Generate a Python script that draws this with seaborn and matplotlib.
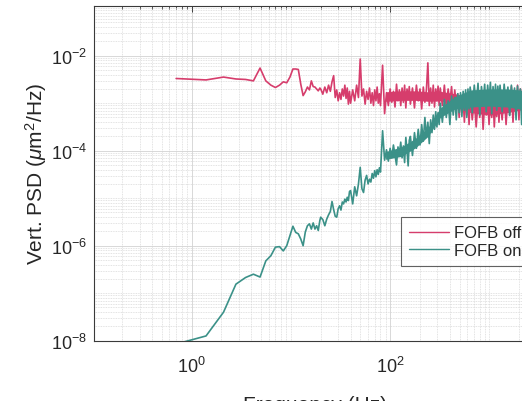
import matplotlib
matplotlib.use("Agg")
import matplotlib.pyplot as plt
import numpy as np
import pandas as pd
import seaborn as sns
from matplotlib.ticker import LogLocator, NullFormatter

# ---------------- data ----------------
series_names = ["FOFB off", "FOFB on"]
series_colors = ["#D63D6C", "#3B9188"]

# low-frequency bins (Hz)
freq_low = [0.7, 1.4, 2.1, 2.8, 3.5, 4.2, 4.9, 5.6, 6.3, 7.0, 7.7, 8.4, 9.1, 9.8,
            10.5, 11.2, 11.9, 12.6, 13.3, 14.0, 14.7, 15.4, 16.1, 16.8, 17.5,
            18.2, 18.9, 19.6]
# log10 of PSD (um^2/Hz)
off_low_log = [-2.48, -2.51, -2.45, -2.49, -2.50, -2.53, -2.26, -2.53, -2.62,
               -2.67, -2.62, -2.55, -2.57, -2.45, -2.28, -2.28, -2.29, -2.60,
               -2.84, -2.76, -2.66, -2.72, -2.53, -2.65, -2.66, -2.70, -2.74,
               -2.68]
on_low_log = [-8.07, -7.90, -7.40, -6.81, -6.67, -6.60, -6.66, -6.32, -6.21,
              -6.03, -6.02, -6.11, -6.00, -5.79, -5.59, -5.72, -5.75, -5.86,
              -6.00, -5.71, -5.58, -5.54, -5.65, -5.52, -5.65, -5.58, -5.68,
              -5.47]

# higher-frequency samples (Hz)
freq_high = [20, 21, 22, 23, 24, 25, 26, 27, 28, 29, 30, 31, 32, 33, 34, 35, 36, 37, 38, 39,
             40, 42, 44, 46, 48, 50, 52, 54, 56, 58, 60, 62, 64, 66, 68, 70, 72, 74, 76, 78,
             80, 84, 88, 92, 96, 100, 104, 108, 112, 116, 120, 124, 128, 132, 136, 140, 144, 148, 152, 156,
             160, 168, 176, 184, 192, 200, 208, 216, 224, 232, 240, 248, 256, 264, 272, 280, 288, 296, 304, 312,
             320, 336, 352, 368, 384, 400, 416, 432, 448, 464, 480, 496, 512, 528, 544, 560, 576, 592, 608, 624,
             640, 672, 704, 736, 768, 800, 832, 864, 896, 928, 960, 992, 1024, 1056, 1088, 1120, 1152, 1184, 1216, 1248,
             1280, 1344, 1408, 1472, 1536, 1600, 1664, 1728, 1792, 1856, 1920, 1984, 2048, 2112, 2176, 2240, 2304, 2368, 2432, 2496, 2560]

off_high_log = [-2.70, -2.81, -2.66, -2.78, -2.62, -2.75, -2.55, -2.42, -2.88, -2.72,
                -2.95, -2.78, -2.92, -2.70, -2.85, -2.62, -2.90, -2.68, -3.02, -2.75,
                -3.00, -2.72, -2.95, -2.62, -2.88, -2.07, -2.85, -2.70, -3.02, -2.75,
                -2.92, -2.68, -3.00, -2.78, -3.05, -2.72, -2.95, -2.66, -3.00, -2.80,
                -3.05, -2.20, -3.22, -2.78, -3.05, -2.70, -2.98, -2.75, -3.08, -2.60,
                -2.95, -2.72, -3.05, -2.68, -2.98, -2.62, -3.10, -2.70, -2.92, -2.65,
                -3.02, -2.68, -3.10, -2.62, -2.95, -2.70, -3.12, -2.66, -2.98, -2.72,
                -2.15, -3.05, -2.68, -3.00, -2.62, -3.08, -2.70, -2.95, -2.64, -3.05,
                -2.68, -3.05, -2.62, -3.10, -2.70, -2.98, -2.65, -3.15, -2.72, -3.05,
                -2.80, -3.30, -2.85, -3.20, -2.90, -3.40, -2.82, -3.25, -2.95, -3.45,
                -2.85, -3.35, -2.90, -3.50, -2.95, -3.30, -2.80, -3.55, -3.00, -3.25,
                -2.85, -3.45, -2.95, -3.30, -2.88, -3.50, -3.00, -3.28, -2.82, -3.40,
                -2.90, -3.35, -2.75, -3.45, -2.85, -3.25, -2.65, -3.40, -2.80, -3.20,
                -2.62, -3.35, -2.70, -3.15, -2.60, -3.30, -2.72, -3.10, -2.65, -3.25,
                -2.80]

on_high_log = [-5.40, -5.45, -5.58, -5.44, -5.35, -5.28, -5.07, -5.24, -5.38, -5.40,
               -5.22, -5.16, -5.25, -5.08, -5.12, -5.02, -5.08, -4.98, -5.05, -4.86,
               -4.84, -5.12, -4.76, -4.95, -4.70, -4.35, -4.80, -4.88, -4.62, -4.52,
               -4.70, -4.60, -4.66, -4.48, -4.58, -4.42, -4.55, -4.40, -4.50, -4.36,
               -4.45, -3.58, -4.20, -3.98, -4.22, -3.95, -4.15, -3.88, -4.10, -4.30,
               -3.92, -4.05, -3.82, -4.15, -3.90, -4.25, -3.72, -4.00, -4.32, -3.78,
               -3.70, -4.10, -3.62, -3.95, -3.55, -3.88, -3.45, -3.80, -3.30, -3.72,
               -3.40, -3.85, -3.35, -3.62, -3.25, -3.55, -3.18, -3.50, -3.20, -3.45,
               -3.00, -3.40, -2.92, -3.30, -2.95, -3.45, -2.85, -3.25, -2.88, -3.35,
               -2.80, -3.20, -2.78, -3.28, -2.75, -3.15, -2.72, -3.30, -2.70, -3.12,
               -2.66, -3.20, -2.62, -3.05, -2.58, -3.25, -2.65, -3.00, -2.60, -3.18,
               -2.62, -2.95, -2.56, -3.22, -2.65, -3.05, -2.60, -3.15, -2.64, -2.98,
               -2.62, -3.18, -2.60, -3.02, -2.66, -3.26, -2.62, -3.00, -2.68, -3.35,
               -2.64, -3.10, -2.70, -3.45, -2.66, -3.15, -2.72, -3.30, -2.70, -3.10,
               -2.75]

# dense-band core (where the spectrum is a solid smear), log10 PSD
band_freq = [90, 130, 180, 240, 320, 450, 650, 1000, 1500, 2000, 2560]
off_band_top = [-2.76, -2.74, -2.74, -2.76, -2.75, -2.80, -2.88, -2.95, -2.88, -2.80, -2.80]
off_band_bot = [-2.96, -2.94, -2.94, -2.96, -2.95, -3.05, -3.20, -3.25, -3.20, -3.15, -3.10]
on_band_top = [-4.02, -3.92, -3.74, -3.52, -3.10, -2.86, -2.72, -2.70, -2.70, -2.72, -2.76]
on_band_bot = [-4.18, -4.12, -3.94, -3.70, -3.30, -3.12, -3.08, -3.06, -3.08, -3.12, -3.12]

x_tick_values = [1, 100]
x_tick_labels = [r"$10^{0}$", r"$10^{2}$"]
y_tick_values = [1e-8, 1e-6, 1e-4, 1e-2]
y_tick_labels = [r"$10^{-8}$", r"$10^{-6}$", r"$10^{-4}$", r"$10^{-2}$"]

# ---------------- build table ----------------
rows = []
for name, lo, hi in [(series_names[0], off_low_log, off_high_log),
                     (series_names[1], on_low_log, on_high_log)]:
    f = list(freq_low) + list(freq_high)
    v = list(lo) + list(hi)
    rows.append(pd.DataFrame({"freq": f, "psd": np.power(10.0, v), "series": name}))
df = pd.concat(rows, ignore_index=True)

# ---------------- style ----------------
sns.set_theme(style="white")
plt.rcParams["font.family"] = ["Liberation Sans", "DejaVu Sans"]
plt.rcParams["mathtext.fontset"] = "custom"
plt.rcParams["mathtext.rm"] = "Liberation Sans"
plt.rcParams["mathtext.it"] = "Liberation Sans:italic"
plt.rcParams["mathtext.default"] = "regular"

fig = plt.figure(figsize=(5.22, 4.02), dpi=100)
W, H = 522.0, 402.0
left_px, right_px, top_px, bottom_px = 94.0, 536.0, 7.0, 341.7
ax = fig.add_axes([left_px / W, 1 - bottom_px / H,
                   (right_px - left_px) / W, (bottom_px - top_px) / H])
ax.set_xscale("log")
ax.set_yscale("log")
ax.set_axisbelow(True)

# solid cores of the dense parts, drawn underneath each series' line
ax.fill_between(band_freq, np.power(10.0, off_band_bot), np.power(10.0, off_band_top),
                color=series_colors[0], linewidth=0, zorder=1.9)
sns.lineplot(data=df[df["series"] == series_names[0]], x="freq", y="psd",
             color=series_colors[0], estimator=None, sort=False, linewidth=1.2,
             legend=False, ax=ax, zorder=2.0)
ax.fill_between(band_freq, np.power(10.0, on_band_bot), np.power(10.0, on_band_top),
                color=series_colors[1], linewidth=0, zorder=2.1)
sns.lineplot(data=df[df["series"] == series_names[1]], x="freq", y="psd",
             color=series_colors[1], estimator=None, sort=False, linewidth=1.2,
             legend=False, ax=ax, zorder=2.2)

ax.set_xlim(0.1042, 10 ** ((right_px - 191.5) / 99.3))
ax.set_ylim(1e-8, 10 ** (-8 + (341.7 - 7.0) / 47.5))

ax.set_xticks(x_tick_values)
ax.set_xticklabels(x_tick_labels)
ax.set_yticks(y_tick_values)
ax.set_yticklabels(y_tick_labels)
ax.xaxis.set_minor_locator(LogLocator(base=10, subs=np.arange(1, 10), numticks=100))
ax.yaxis.set_minor_locator(LogLocator(base=10, subs=np.arange(1, 10), numticks=100))
ax.xaxis.set_minor_formatter(NullFormatter())
ax.yaxis.set_minor_formatter(NullFormatter())

ax.grid(True, which="major", color="#d2d2d2", linewidth=0.6, linestyle="-")
ax.grid(True, which="minor", color="#d2d2d2", linewidth=0.5, linestyle=(0, (1.2, 1.2)))

for s in ax.spines.values():
    s.set_color("#3a3a3a")
    s.set_linewidth(0.8)
ax.tick_params(which="both", direction="in", top=True, right=True,
               color="#3a3a3a", labelcolor="#262626", labelsize=13)
ax.tick_params(which="major", length=4.5, width=0.7)
ax.tick_params(which="minor", length=2.5, width=0.6)
ax.tick_params(axis="x", pad=11)
ax.tick_params(axis="y", pad=5)

ax.set_xlabel("Frequency (Hz)", fontsize=15, color="#262626", labelpad=13.5)
ax.set_ylabel(r"Vert. PSD ($\mathit{\mu}$m$^2$/Hz)", fontsize=15,
              color="#262626", labelpad=1.5)

off_line = [l for l in ax.get_lines() if l.get_zorder() == 2.0][0]
on_line = [l for l in ax.get_lines() if l.get_zorder() == 2.2][0]
leg = ax.legend([off_line, on_line], series_names, loc="upper left",
                bbox_to_anchor=((401 - left_px) / (right_px - left_px),
                                (bottom_px - 218) / (bottom_px - top_px)),
                borderaxespad=0, fontsize=12, frameon=True, fancybox=False,
                handlelength=2.4, handletextpad=0.25, borderpad=0.5,
                labelspacing=0.16)
leg.set_zorder(5)
leg.get_frame().set_edgecolor("#3a3a3a")
leg.get_frame().set_linewidth(0.8)
for line in leg.get_lines():
    line.set_linewidth(1.0)
for t in leg.get_texts():
    t.set_color("#262626")

fig.savefig("out.png", dpi=100)
